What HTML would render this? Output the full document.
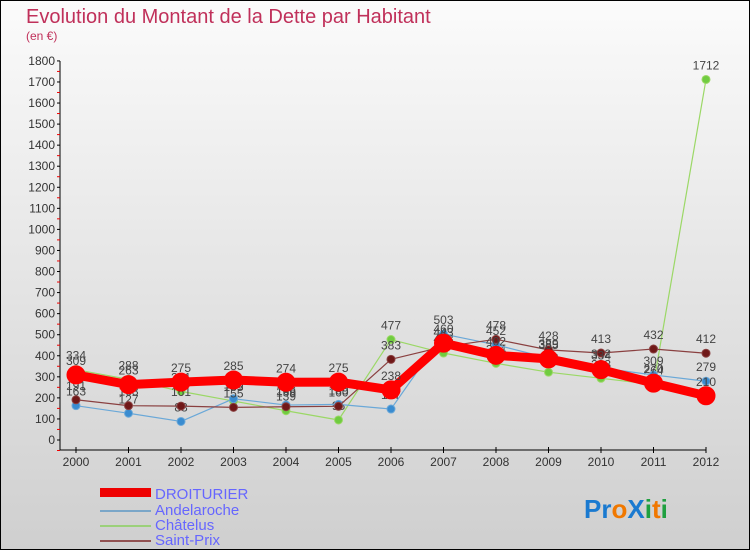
<!DOCTYPE html>
<html><head><meta charset="utf-8"><style>
body{margin:0;width:750px;height:550px;overflow:hidden;font-family:"Liberation Sans",sans-serif}
</style></head><body>
<svg id="chart" width="750" height="550" xmlns="http://www.w3.org/2000/svg">
<defs><linearGradient id="bg" x1="0" y1="0" x2="0" y2="1"><stop offset="0" stop-color="#fbfbfb"/><stop offset="1" stop-color="#cfcfcf"/></linearGradient></defs>
<rect x="0" y="0" width="750" height="550" fill="url(#bg)" stroke="#000" stroke-width="2"/>
<text x="26" y="23" font-size="20" fill="#c0305a">Evolution du Montant de la Dette par Habitant</text>
<text x="26" y="40" font-size="12" fill="#c0305a">(en €)</text>
<g id="axes"></g><g id="series"></g>
<g>
<rect x="100" y="488" width="51" height="9" fill="#e00"/>
<text x="155" y="499" font-size="15" fill="#6666ff">DROITURIER</text>
<line x1="100" y1="511" x2="151" y2="511" stroke="#7aa6c8" stroke-width="2"/>
<text x="155" y="515" font-size="15" fill="#6666ff">Andelaroche</text>
<line x1="100" y1="526" x2="151" y2="526" stroke="#9bd07a" stroke-width="2"/>
<text x="155" y="530" font-size="15" fill="#6666ff">Châtelus</text>
<line x1="100" y1="541" x2="151" y2="541" stroke="#905050" stroke-width="2"/>
<text x="155" y="545" font-size="15" fill="#6666ff">Saint-Prix</text>
</g>
<text x="584" y="518" font-size="26" font-weight="bold"><tspan fill="#1a7ad0">Pr</tspan><tspan fill="#f07800">o</tspan><tspan fill="#1a7ad0">X</tspan><tspan fill="#20a040">i</tspan><tspan fill="#f07800">t</tspan><tspan fill="#20a040">i</tspan></text>
</svg>
<script>
const years=["2000","2001","2002","2003","2004","2005","2006","2007","2008","2009","2010","2011","2012"];
const yTicks=[0,100,200,300,400,500,600,700,800,900,1000,1100,1200,1300,1400,1500,1600,1700,1800];
const droiturier=[309,263,275,285,274,275,238,460,402,385,334,270,210];
const andelaroche=[163,127,88,196,166,169,147,503,452,389,342,309,279];
const chatelus=[334,288,231,185,139,95,477,413,364,322,293,264,1712];
const saintPrix=[191,163,161,155,158,160,383,443,478,428,413,432,412];
const NS="http://www.w3.org/2000/svg";
const xs=i=>76+i*52.5, ys=v=>440-v*0.2106;
function mk(tag,attrs,parent){const e=document.createElementNS(NS,tag);for(const k in attrs)e.setAttribute(k,attrs[k]);parent.appendChild(e);return e;}
const axes=document.getElementById('axes'), ser=document.getElementById('series');
let a=mk('line',{x1:60,y1:450,x2:706,y2:450,stroke:'#000'},axes);


a=mk('line',{x1:60,y1:61,x2:60,y2:450,stroke:'#000'},axes);


yTicks.forEach(v=>{const y=ys(v);
 mk('line',{x1:57,y1:y,x2:60,y2:y,stroke:'#000'},axes);
 mk('line',{x1:57,y1:y+10.5,x2:60,y2:y+10.5,stroke:'#e00'},axes);
 const t=mk('text',{x:55,y:y+4,'font-size':12,fill:'#333','text-anchor':'end'},axes);t.textContent=v;
 
 });
years.forEach((yr,i)=>{const x=xs(i);
 mk('line',{x1:x,y1:447,x2:x,y2:453,stroke:'#000'},axes);
 const t=mk('text',{x:x,y:466,'font-size':12,fill:'#333','text-anchor':'middle'},axes);t.textContent=yr;
 
 });
function draw(data,color,w,r,ptFill,name){
 const g=mk('g',{},ser);
 
 
 mk('polyline',{points:data.map((v,i)=>xs(i)+','+ys(v)).join(' '),fill:'none',stroke:color,'stroke-width':w,'stroke-linejoin':'round'},g);
 data.forEach((v,i)=>{const c=mk('circle',{cx:xs(i),cy:ys(v),r:r,fill:ptFill,stroke:color,'stroke-width':1},g);
  
  
  const t=mk('text',{x:xs(i),y:ys(v)-10,'font-size':12,fill:'#444','text-anchor':'middle'},g);t.textContent=v;
  
  });
}
draw(chatelus,'#9bd866',1.2,4,'#70cc40','chatelus');
draw(andelaroche,'#6aa8d8',1.2,4,'#3a8cd0','andelaroche');
draw(saintPrix,'#8a4040',1.2,4,'#701818','saint-prix');
draw(droiturier,'#ff0000',9,9,'#ff0000','droiturier');
</script>
</body></html>
